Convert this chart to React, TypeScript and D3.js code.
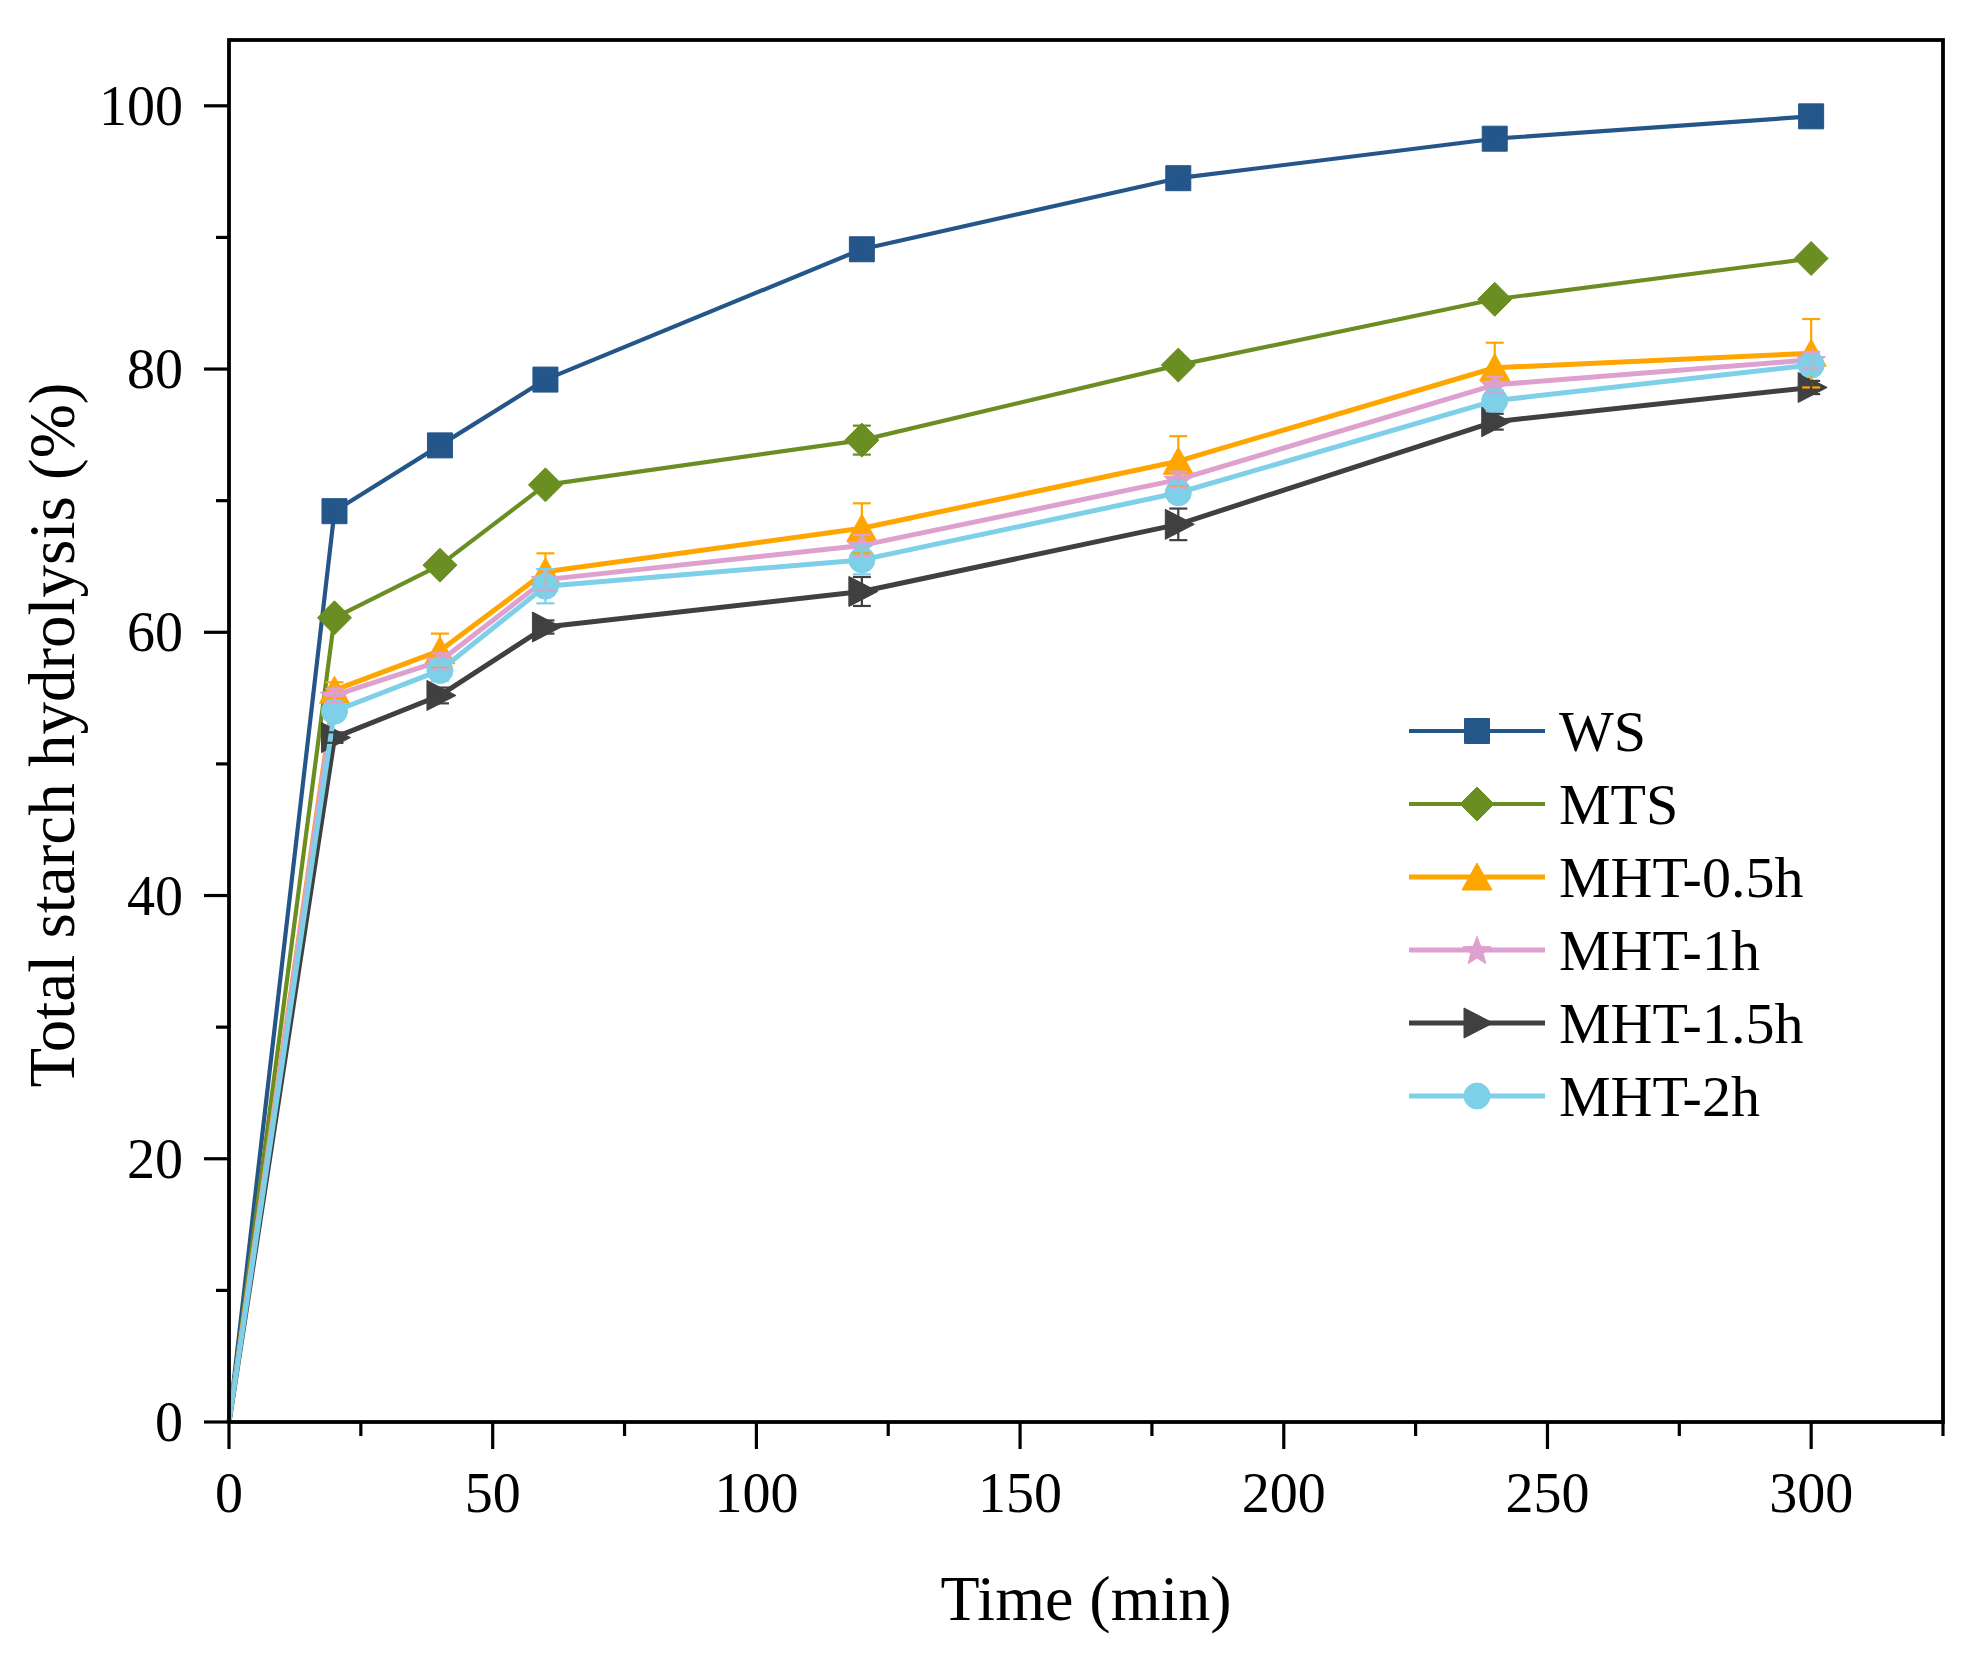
import React from "react";
import * as d3 from "d3";

const times = [0, 20, 40, 60, 120, 180, 240, 300];
const seriesNames = ["WS", "MTS", "MHT-0.5h", "MHT-1h", "MHT-1.5h", "MHT-2h"];
const wsValues = [0, 69.2, 74.2, 79.2, 89.1, 94.5, 97.5, 99.2];
const mtsValues = [0, 61.1, 65.1, 71.2, 74.6, 80.3, 85.3, 88.4];
const mht05Values = [0, 55.6, 58.6, 64.6, 67.9, 73.0, 80.1, 81.2];
const mht1Values = [0, 55.2, 57.8, 64.0, 66.6, 71.6, 78.8, 80.7];
const mht15Values = [0, 52.0, 55.2, 60.4, 63.1, 68.2, 76.0, 78.6];
const mht2Values = [0, 54.0, 57.1, 63.5, 65.5, 70.6, 77.6, 80.3];

const wsErrors = [0, 0.3, 0.3, 0.3, 0.8, 0.4, 0.4, 0.4];
const mtsErrors = [0, 0.4, 0.4, 0.4, 1.1, 0.4, 0.4, 0.4];
const mht05Errors = [0, 0.6, 1.3, 1.4, 1.9, 1.9, 1.9, 2.6];
const mht1Errors = [0, 0.5, 0.6, 0.8, 0.8, 0.6, 0.6, 0.6];
const mht15Errors = [0, 0.4, 0.6, 0.5, 1.1, 1.2, 0.6, 0.5];
const mht2Errors = [0, 0.5, 0.8, 1.3, 1.1, 0.7, 0.8, 0.7];

const xTicks = [0, 50, 100, 150, 200, 250, 300];
const xMinorTicks = [25, 75, 125, 175, 225, 275, 325];
const yTicks = [0, 20, 40, 60, 80, 100];
const yMinorTicks = [10, 30, 50, 70, 90];

const colors = ["#24568A", "#6B8E23", "#FFA500", "#DDA0CF", "#404040", "#7ECFE8"];
const shapes = ["square", "diamond", "triangle", "star", "right", "circle"];
const allValues = [wsValues, mtsValues, mht05Values, mht1Values, mht15Values, mht2Values];
const allErrors = [wsErrors, mtsErrors, mht05Errors, mht1Errors, mht15Errors, mht2Errors];

const FONT = "'Liberation Serif', 'Times New Roman', serif";
const W = 1973;
const H = 1663;
const M = { left: 229, right: 1943, top: 40, bottom: 1422 };

function markerPath(shape: string): string {
  switch (shape) {
    case "square":
      return "M-12.5,-12.5H12.5V12.5H-12.5Z";
    case "diamond":
      return "M0,-17L17,0L0,17L-17,0Z";
    case "triangle":
      return "M0,-14L15,13L-15,13Z";
    case "right":
      return "M-13,-15L16,0L-13,15Z";
    case "circle":
      return "M13,0A13,13,0,1,1,-13,0A13,13,0,1,1,13,0Z";
    case "star": {
      const pts: string[] = [];
      const R = 15;
      const r = 6.5;
      for (let i = 0; i < 10; i++) {
        const a = -Math.PI / 2 + (i * Math.PI) / 5;
        const rad = i % 2 === 0 ? R : r;
        pts.push(`${(rad * Math.cos(a)).toFixed(2)},${(rad * Math.sin(a) + 1.5).toFixed(2)}`);
      }
      return "M" + pts.join("L") + "Z";
    }
  }
  return "";
}

export default function App() {
  const x = d3.scaleLinear().domain([0, 325]).range([M.left, M.right]);
  const y = d3.scaleLinear().domain([0, 105]).range([M.bottom, M.top]);

  const series = seriesNames.map((name, i) => ({
    name,
    color: colors[i],
    shape: shapes[i],
    width: i < 2 ? 4.2 : 5,
    points: times.map((t, j) => ({ t, v: allValues[i][j], e: allErrors[i][j] })),
  }));

  const line = d3
    .line<{ t: number; v: number }>()
    .x((d) => x(d.t))
    .y((d) => y(d.v));

  const legendX = 1409;
  const legendY0 = 731;
  const legendDy = 73;

  return (
    <svg
      width={W}
      height={H}
      style={{ position: "absolute", left: 0, top: 0, background: "#fff" }}
      fontFamily={FONT}
    >
      <rect x={0} y={0} width={W} height={H} fill="#fff" />
      {series.map((s) => (
        <g key={s.name}>
          <path d={line(s.points) || ""} fill="none" stroke={s.color} strokeWidth={s.width} strokeLinejoin="round" />
          {s.points
            .filter((p) => p.t > 0)
            .map((p, j) => (
              <path
                key={j}
                d={markerPath(s.shape)}
                transform={`translate(${x(p.t)},${y(p.v)})`}
                fill={s.color}
                stroke={s.color}
                strokeWidth={1}
              />
            ))}
        </g>
      ))}
      {series.map((s) => (
        <g key={s.name + "-err"} stroke={s.color} strokeWidth={2.2}>
          {s.points
            .filter((p) => p.e > 0)
            .map((p, j) => {
              const cx = x(p.t);
              const y1 = y(p.v + p.e);
              const y2 = y(p.v - p.e);
              return (
                <g key={j}>
                  <line x1={cx} x2={cx} y1={y1} y2={y2} />
                  <line x1={cx - 9} x2={cx + 9} y1={y1} y2={y1} />
                  <line x1={cx - 9} x2={cx + 9} y1={y2} y2={y2} />
                </g>
              );
            })}
        </g>
      ))}
      <rect
        x={M.left}
        y={M.top}
        width={M.right - M.left}
        height={M.bottom - M.top}
        fill="none"
        stroke="#000"
        strokeWidth={3.8}
      />
      <g stroke="#000" strokeWidth={3.2}>
        {xTicks.map((t) => (
          <line key={t} x1={x(t)} x2={x(t)} y1={M.bottom} y2={M.bottom + 27} />
        ))}
        {xMinorTicks.map((t) => (
          <line key={t} x1={x(t)} x2={x(t)} y1={M.bottom} y2={M.bottom + 14} />
        ))}
        {yTicks.map((t) => (
          <line key={t} x1={M.left - 25} x2={M.left} y1={y(t)} y2={y(t)} />
        ))}
        {yMinorTicks.map((t) => (
          <line key={t} x1={M.left - 13} x2={M.left} y1={y(t)} y2={y(t)} />
        ))}
      </g>
      {xTicks.map((t) => (
        <text key={t} x={x(t)} y={1512} textAnchor="middle" fontSize={56} fill="#000">
          {t}
        </text>
      ))}
      {yTicks.map((t) => (
        <text key={t} x={183} y={y(t) + 19} textAnchor="end" fontSize={56} fill="#000">
          {t}
        </text>
      ))}
      <text x={1086} y={1620} textAnchor="middle" fontSize={64} fill="#000">
        Time (min)
      </text>
      <text
        transform={`translate(74,${735}) rotate(-90)`}
        textAnchor="middle"
        fontSize={65}
        fill="#000"
      >
        Total starch hydrolysis (%)
      </text>
      {series.map((s, i) => {
        const ly = legendY0 + i * legendDy;
        return (
          <g key={s.name + "-leg"}>
            <line x1={legendX} x2={legendX + 136} y1={ly} y2={ly} stroke={s.color} strokeWidth={s.width} />
            <path d={markerPath(s.shape)} transform={`translate(${legendX + 68},${ly})`} fill={s.color} stroke={s.color} strokeWidth={1} />
            <text x={1559} y={ly + 20} fontSize={58} fill="#000">
              {s.name}
            </text>
          </g>
        );
      })}
    </svg>
  );
}
